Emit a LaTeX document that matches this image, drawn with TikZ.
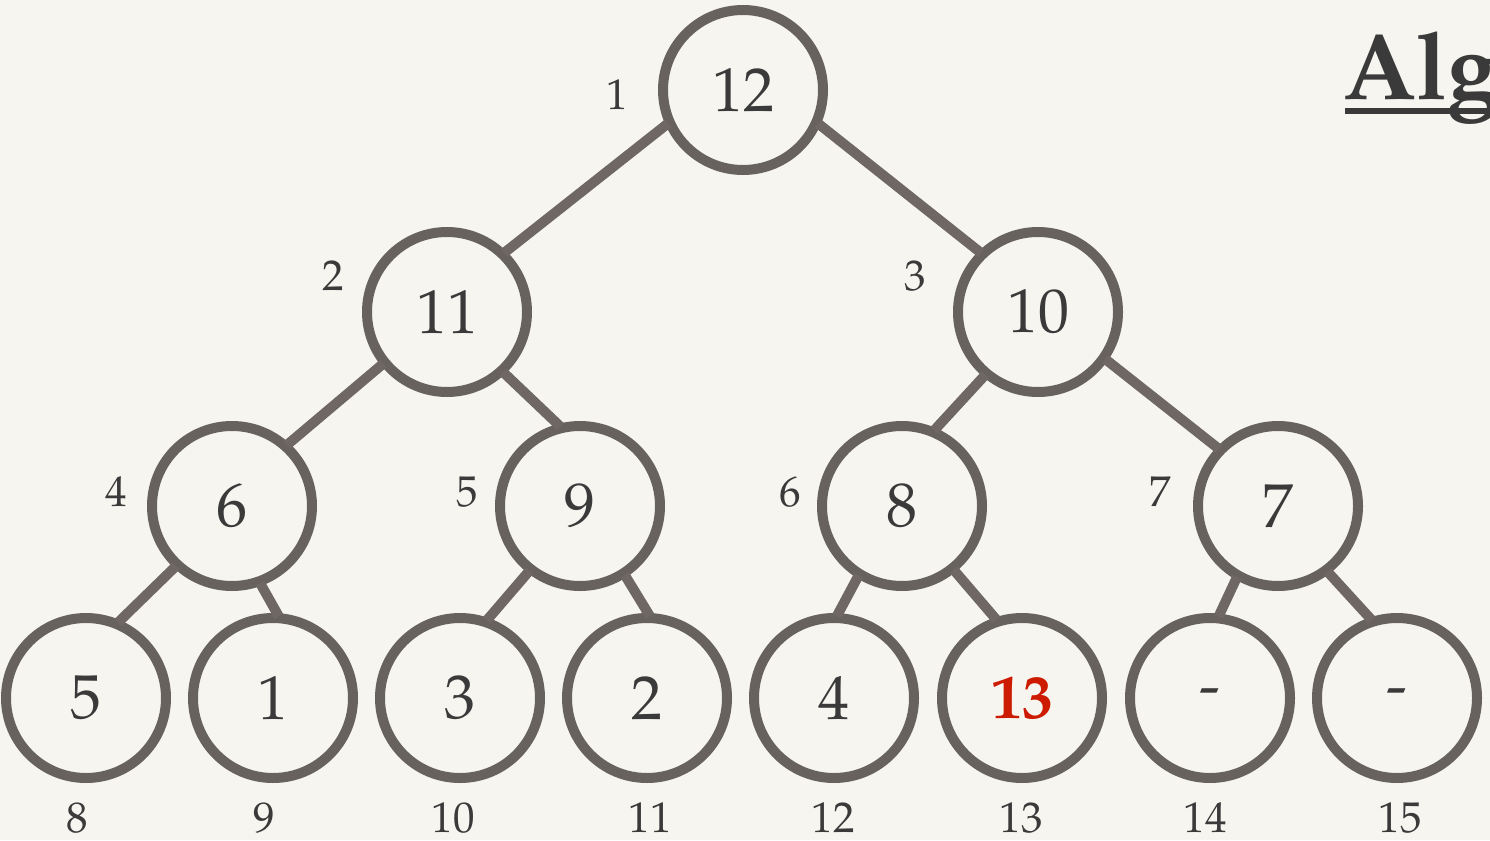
\documentclass[tikz,border=0pt]{standalone}
\usepackage{fontspec}
\setmainfont{TeX Gyre Pagella}
\definecolor{bg}{HTML}{F7F5F0}
\definecolor{ring}{HTML}{67625D}
\definecolor{stick}{HTML}{6E6763}
\definecolor{ink}{HTML}{3A3A3A}
\definecolor{hot}{HTML}{CC1B00}
\tikzset{
  hnode/.style={circle, draw=ring, line width=10pt, minimum size=160pt, inner sep=0pt, outer sep=2pt, text=ink, font=\fontsize{62}{62}\selectfont},
  idx/.style={text=ink, inner sep=0pt, font=\fontsize{43}{43}\selectfont},
  bidx/.style={idx, anchor=base},
  edge/.style={draw=stick, line width=10pt}
}
\begin{document}
\begin{tikzpicture}[x=1pt,y=-1pt]
\useasboundingbox (0,0) rectangle (1490,840);
\clip (0,0) rectangle (1490,840);
\fill[bg] (0,0) rectangle (1490,840);
% heap nodes
\node[hnode] (n1) at (743,90) {12};
\node[hnode] (n2) at (447,312) {11};
\node[hnode] (n3) at (1038,312) {10};
\node[hnode] (n4) at (232,506) {6};
\node[hnode] (n5) at (580,506) {9};
\node[hnode] (n6) at (902,506) {8};
\node[hnode] (n7) at (1278,506) {7};
\node[hnode] (n8) at (86,698) {5};
\node[hnode] (n9) at (273,698) {1};
\node[hnode] (n10) at (460,698) {3};
\node[hnode] (n11) at (647,698) {2};
\node[hnode] (n12) at (834,698) {4};
\node[hnode, text=hot, font=\fontsize{62}{62}\selectfont\bfseries] (n13) at (1022,698) {13};
\node[hnode] (n14) at (1210,698) {-};
\node[hnode] (n15) at (1397,698) {-};
% edges
\draw[edge] (n1.204.7) -- (n2.46.9);
\draw[edge] (n1.336) -- (n3.134.5);
\draw[edge] (n2.219.6) -- (n4.48.4);
\draw[edge] (n2.313) -- (n5.104);
\draw[edge] (n3.230) -- (n6.67.3);
\draw[edge] (n3.325) -- (n7.136);
\draw[edge] (n4.227.4) -- (n8.67.7);
\draw[edge] (n4.290) -- (n9.86.5);
\draw[edge] (n5.232) -- (n10.71);
\draw[edge] (n5.303.5) -- (n11.88);
\draw[edge] (n6.238) -- (n12.88);
\draw[edge] (n6.309) -- (n13.108);
\draw[edge] (n7.240) -- (n14.84.6);
\draw[edge] (n7.307) -- (n15.108);
% index labels
\node[idx] (i1) at (617,95) {1};
\node[idx] (i2) at (333,276) {2};
\node[idx] (i3) at (915,276) {3};
\node[idx] (i4) at (116,492) {4};
\node[idx] (i5) at (467,492) {5};
\node[idx] (i6) at (790,492) {6};
\node[idx] (i7) at (1160,492) {7};
\node[bidx] (i8) at (77,832) {8};
\node[bidx] (i9) at (264,832) {9};
\node[bidx] (i10) at (453,832) {10};
\node[bidx] (i11) at (650,832) {11};
\node[bidx] (i12) at (833,832) {12};
\node[bidx] (i13) at (1021,832) {13};
\node[bidx] (i14) at (1205,832) {14};
\node[bidx] (i15) at (1400,832) {15};
% title (cut at the right edge)
\node[anchor=base west, inner sep=0pt, text=ink, font=\fontsize{94}{94}\selectfont\bfseries] (title) at (1343,100) {Alg};
\fill[ink] (1345,108) rectangle (1490,114);
\end{tikzpicture}
\end{document}
